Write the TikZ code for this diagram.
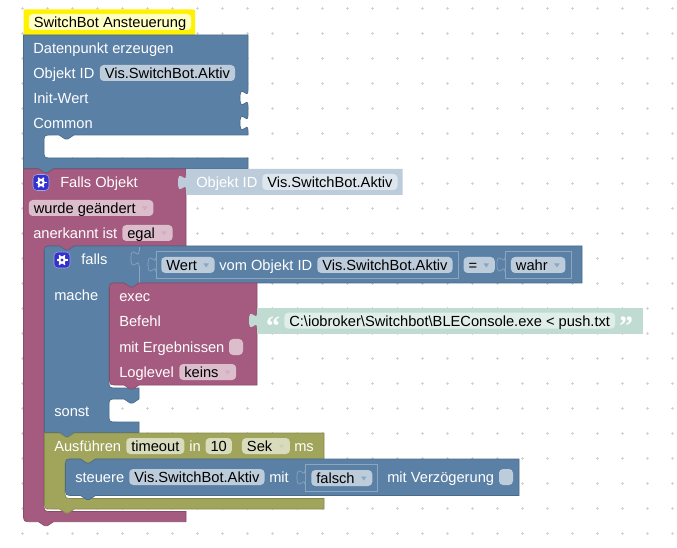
\documentclass[tikz,border=0pt]{standalone}
\usepackage{fontspec}
\setmainfont{Liberation Sans}
\newfontfamily\quotefont{Liberation Serif}
\definecolor{blockblue}{HTML}{5B80A5}
\definecolor{blockpurple}{HTML}{A55B80}
\definecolor{blockolive}{HTML}{A0A55B}
\definecolor{blockshadow}{HTML}{BDCCDB}
\definecolor{blockteal}{HTML}{C0DCD2}
\definecolor{edgeblue}{HTML}{4A6A8A}
\definecolor{edgepurple}{HTML}{8A4A6A}
\definecolor{edgeolive}{HTML}{868A4A}
\definecolor{linelight}{HTML}{8CA6C0}
\definecolor{pillblue}{HTML}{BDCCDB}
\definecolor{pillpurple}{HTML}{DBBDCC}
\definecolor{pillolive}{HTML}{D9DBBD}
\definecolor{pillteal}{HTML}{E0EEE9}
\definecolor{pillshadow}{HTML}{DEE6ED}
\definecolor{pillhat}{HTML}{FFFFC4}
\definecolor{iconblue}{HTML}{3333CC}
\tikzset{
  lbl/.style={anchor=base west, inner sep=0pt, text=white, yshift=-.5pt},
  field/.style={anchor=west, rectangle, rounded corners=3pt, fill=#1, text=black,
    inner xsep=3.75pt, inner ysep=0pt, minimum height=12pt, text height=10pt, text depth=1.5pt},
  dropbox/.style={field=#1, execute at end node=\hspace{9.5pt}},
  tabline/.style={draw=linelight, line width=.5pt, fill=blockblue},
  boxline/.style={draw=linelight, line width=.5pt},
  dot/.style={draw=black!17, line width=.5pt},
}
% puzzle pieces, in pixels with y downward
\newcommand{\notchL}{-- ++(-6,4) -- ++(-3,0) -- ++(-6,-4)}
\newcommand{\notchR}{-- ++(6,4) -- ++(3,0) -- ++(6,-4)}
\newcommand{\tabdown}{.. controls +(0,10) and +(0,-15.5) .. ++(-8,7.5) .. controls +(0,15.5) and +(0,-10) .. ++(8,7.5)}
\newcommand{\ddarrow}[2]{\fill[#2] (#1.east) ++(-11.5,-1.5) -- ++(5.5,0) -- ++(-2.75,4) -- cycle;}
\newcommand{\gearicon}[3]{%
  \node[fill=iconblue, draw=iconblue!45, rounded corners=3pt, minimum size=12pt, inner sep=0pt] (#1) at (#2,#3) {};
  \foreach \a in {0,60,...,300} {\draw[white, line width=1.2pt] (#2,#3) -- +(\a:5.5);}
  \fill[white] (#2,#3) circle (2.9pt);
  \fill[iconblue] (#2,#3) circle (1.3pt);
}
\begin{document}
\begin{tikzpicture}[x=.75pt, y=-.75pt, every node/.style={font=\fontsize{11}{13}\selectfont}]
\useasboundingbox (0,0) rectangle (677,548);
\fill[white] (0,0) rectangle (677,548);

% workspace grid
\foreach \i in {0,...,26} {
  \foreach \j in {0,...,21} {
    \draw[dot] (22.5+25*\i-1.5,8.3+25*\j) -- ++(3,0);
    \draw[dot] (22.5+25*\i,8.3+25*\j-1.5) -- ++(0,3);
  }
}

% comment hat
\fill[yellow] (26,9.5) -- (192.5,9.5) .. controls (195,9.5) .. (195,12) -- (195,35) -- (53.5,35) \notchL -- (23.5,35) -- (23.5,12) .. controls (23.5,9.5) .. (26,9.5) -- cycle;
\node[field=pillhat] (hatname) at (28.5,22) {SwitchBot Ansteuerung};

% create state
\filldraw[fill=blockblue, draw=edgeblue, line width=.5pt] (23.5,35) -- (248,35) -- (248,90.5) \tabdown -- (248,115.5) \tabdown -- (248,135) -- (74,135) \notchL -- (52,135) .. controls (44,135) .. (44,143) -- (44,150) .. controls (44,158) .. (52,158) -- (248,158) -- (248,168.5) -- (53.5,168.5) \notchL -- (23.5,168.5) -- cycle;
\node[lbl] (create) at (33,53) {Datenpunkt erzeugen};
\node[lbl] (createid) at (33,78) {Objekt ID};
\node[field=pillblue] (createvis) at (99.5,73) {Vis.SwitchBot.Aktiv};
\node[lbl] (init) at (33,103) {Init-Wert};
\node[lbl] (common) at (33,128) {Common};

% trigger
\filldraw[fill=blockpurple, draw=edgepurple, line width=.5pt] (23.5,169) -- (38.5,169) \notchR -- (186,169) -- (186,246) -- (74,246) \notchL -- (52,246) .. controls (44,246) .. (44,254) -- (44,503) .. controls (44,511.5) .. (52,511.5) -- (186,511.5) -- (186,521.7) -- (53.5,521.7) \notchL -- (31.5,521.7) .. controls (23.5,521.7) .. (23.5,513.7) -- cycle;
\gearicon{trigicon}{41}{182.5}
\node[lbl] (trigger) at (60,187) {Falls Objekt};
\node[dropbox=pillpurple] (changed) at (28.5,208) {wurde geändert};
\ddarrow{changed}{blockpurple!50!white}
\node[lbl] (ack) at (33,238) {anerkannt ist};
\node[dropbox=pillpurple] (ackval) at (122,233) {egal};
\ddarrow{ackval}{blockpurple!50!white}

% object id value
\fill[blockshadow] (186,169) -- (402.7,169) -- (402.7,195) -- (186,195) -- (186,190) -- cycle;
\fill[blockshadow] (186,175) \tabdown -- cycle;
\node[lbl] (trigid) at (196,187) {Objekt ID};
\node[field=pillshadow] (trigvis) at (262,182) {Vis.SwitchBot.Aktiv};

% if block
\filldraw[fill=blockblue, draw=edgeblue, line width=.5pt] (44.5,254) .. controls (44.5,246) .. (52.5,246) -- (59.5,246) \notchR -- (582,246) -- (582,283) -- (139,283) \notchL -- (117,283) .. controls (109,283) .. (109,291) -- (109,380) .. controls (109,388) .. (117,388) -- (139,388) -- (139,399) \notchL -- (117,399) .. controls (109,399) .. (109,407) -- (109,414) .. controls (109,422) .. (117,422) -- (139,422) -- (139,432.5) -- (74.5,432.5) \notchL -- (44.5,432.5) -- cycle;
\gearicon{ificon}{62}{260}
\node[lbl] (iflabel) at (81,264) {falls};
\draw[boxline] (139,247) -- (139,251);
\filldraw[tabline] (139,251) \tabdown;
\draw[boxline] (139,266) -- (139,283);
\draw[boxline] (156,251.7) rectangle (458,278.3);
\filldraw[tabline] (156,257) \tabdown;
\node[dropbox=pillblue] (valuekind) at (161,265) {Wert};
\ddarrow{valuekind}{blockblue!70!white}
\node[lbl] (valueof) at (219,270) {vom Objekt ID};
\node[field=pillblue] (valuevis) at (317,265) {Vis.SwitchBot.Aktiv};
\node[dropbox=pillblue] (compare) at (463.3,265) {=};
\ddarrow{compare}{blockblue!70!white}
\draw[boxline] (505,251.7) rectangle (571,278.3);
\filldraw[tabline] (505,257) \tabdown;
\node[dropbox=pillblue] (truth) at (510.7,265) {wahr};
\ddarrow{truth}{blockblue!70!white}
\node[lbl] (dolabel) at (54,300) {mache};
\node[lbl] (elselabel) at (54,416) {sonst};

% exec
\filldraw[fill=blockpurple, draw=edgepurple, line width=.5pt] (109.5,291) .. controls (109.5,283) .. (117.5,283) -- (124,283) \notchR -- (257,283) -- (257,385) -- (139,385) \notchL -- (117.5,385) .. controls (109.5,385) .. (109.5,377) -- cycle;
\node[lbl] (exec) at (119,301) {exec};
\node[lbl] (command) at (119,326) {Befehl};
\node[lbl] (results) at (119,352) {mit Ergebnissen};
\fill[pillpurple, rounded corners=3pt] (229,339) rectangle (243,355);
\node[lbl] (loglevel) at (119,377) {Loglevel};
\node[dropbox=pillpurple] (loglevelval) at (179,372) {keins};
\ddarrow{loglevelval}{blockpurple!50!white}

% command text
\fill[blockteal] (257,308) rectangle (642.7,334);
\fill[blockteal] (257,313) \tabdown -- cycle;
\node[anchor=center, inner sep=0pt, text=white, font=\fontsize{21}{21}\selectfont\quotefont\bfseries] (openquote) at (273,326) {“};
\node[field=pillteal] (commandtext) at (284,320.7) {C:\textbackslash iobroker\textbackslash Switchbot\textbackslash BLEConsole.exe < push.txt};
\node[anchor=center, inner sep=0pt, text=white, font=\fontsize{21}{21}\selectfont\quotefont\bfseries] (closequote) at (626,326) {”};

% timeout
\filldraw[fill=blockolive, draw=edgeolive, line width=.5pt] (44.5,433) -- (59.5,433) \notchR -- (324,433) -- (324,459) -- (95.5,459) \notchL -- (73,459) .. controls (65,459) .. (65,467) -- (65,490) .. controls (65,498.5) .. (73,498.5) -- (324,498.5) -- (324,509) -- (74.5,509) \notchL -- (52.5,509) .. controls (44.5,509) .. (44.5,501) -- cycle;
\node[lbl] (timeout) at (54,451) {Ausführen};
\node[field=pillolive] (timeoutname) at (126,446) {timeout};
\node[lbl] (inlabel) at (189,451) {in};
\node[field=pillolive] (delay) at (205.3,446) {10};
\node[dropbox=pillolive] (unit) at (241.7,446) {Sek};
\ddarrow{unit}{blockolive!50!white}
\node[lbl] (mslabel) at (294,451) {ms};

% control
\filldraw[fill=blockblue, draw=edgeblue, line width=.5pt] (65.5,467) .. controls (65.5,459) .. (73.5,459) -- (80.5,459) \notchR -- (519,459) -- (519,495.5) -- (95.5,495.5) \notchL -- (73.5,495.5) .. controls (65.5,495.5) .. (65.5,487.5) -- cycle;
\node[lbl] (control) at (75,482) {steuere};
\node[field=pillblue] (controlvis) at (129,477) {Vis.SwitchBot.Aktiv};
\node[lbl] (withlabel) at (269,482) {mit};
\draw[boxline] (305,464) rectangle (377.3,491.7);
\filldraw[tabline] (305,470) \tabdown;
\node[dropbox=pillblue] (falseval) at (311,478) {falsch};
\ddarrow{falseval}{blockblue!70!white}
\node[lbl] (delaylabel) at (387,482) {mit Verzögerung};
\fill[pillblue, rounded corners=3pt] (499,469) rectangle (513,485);
\end{tikzpicture}
\end{document}
